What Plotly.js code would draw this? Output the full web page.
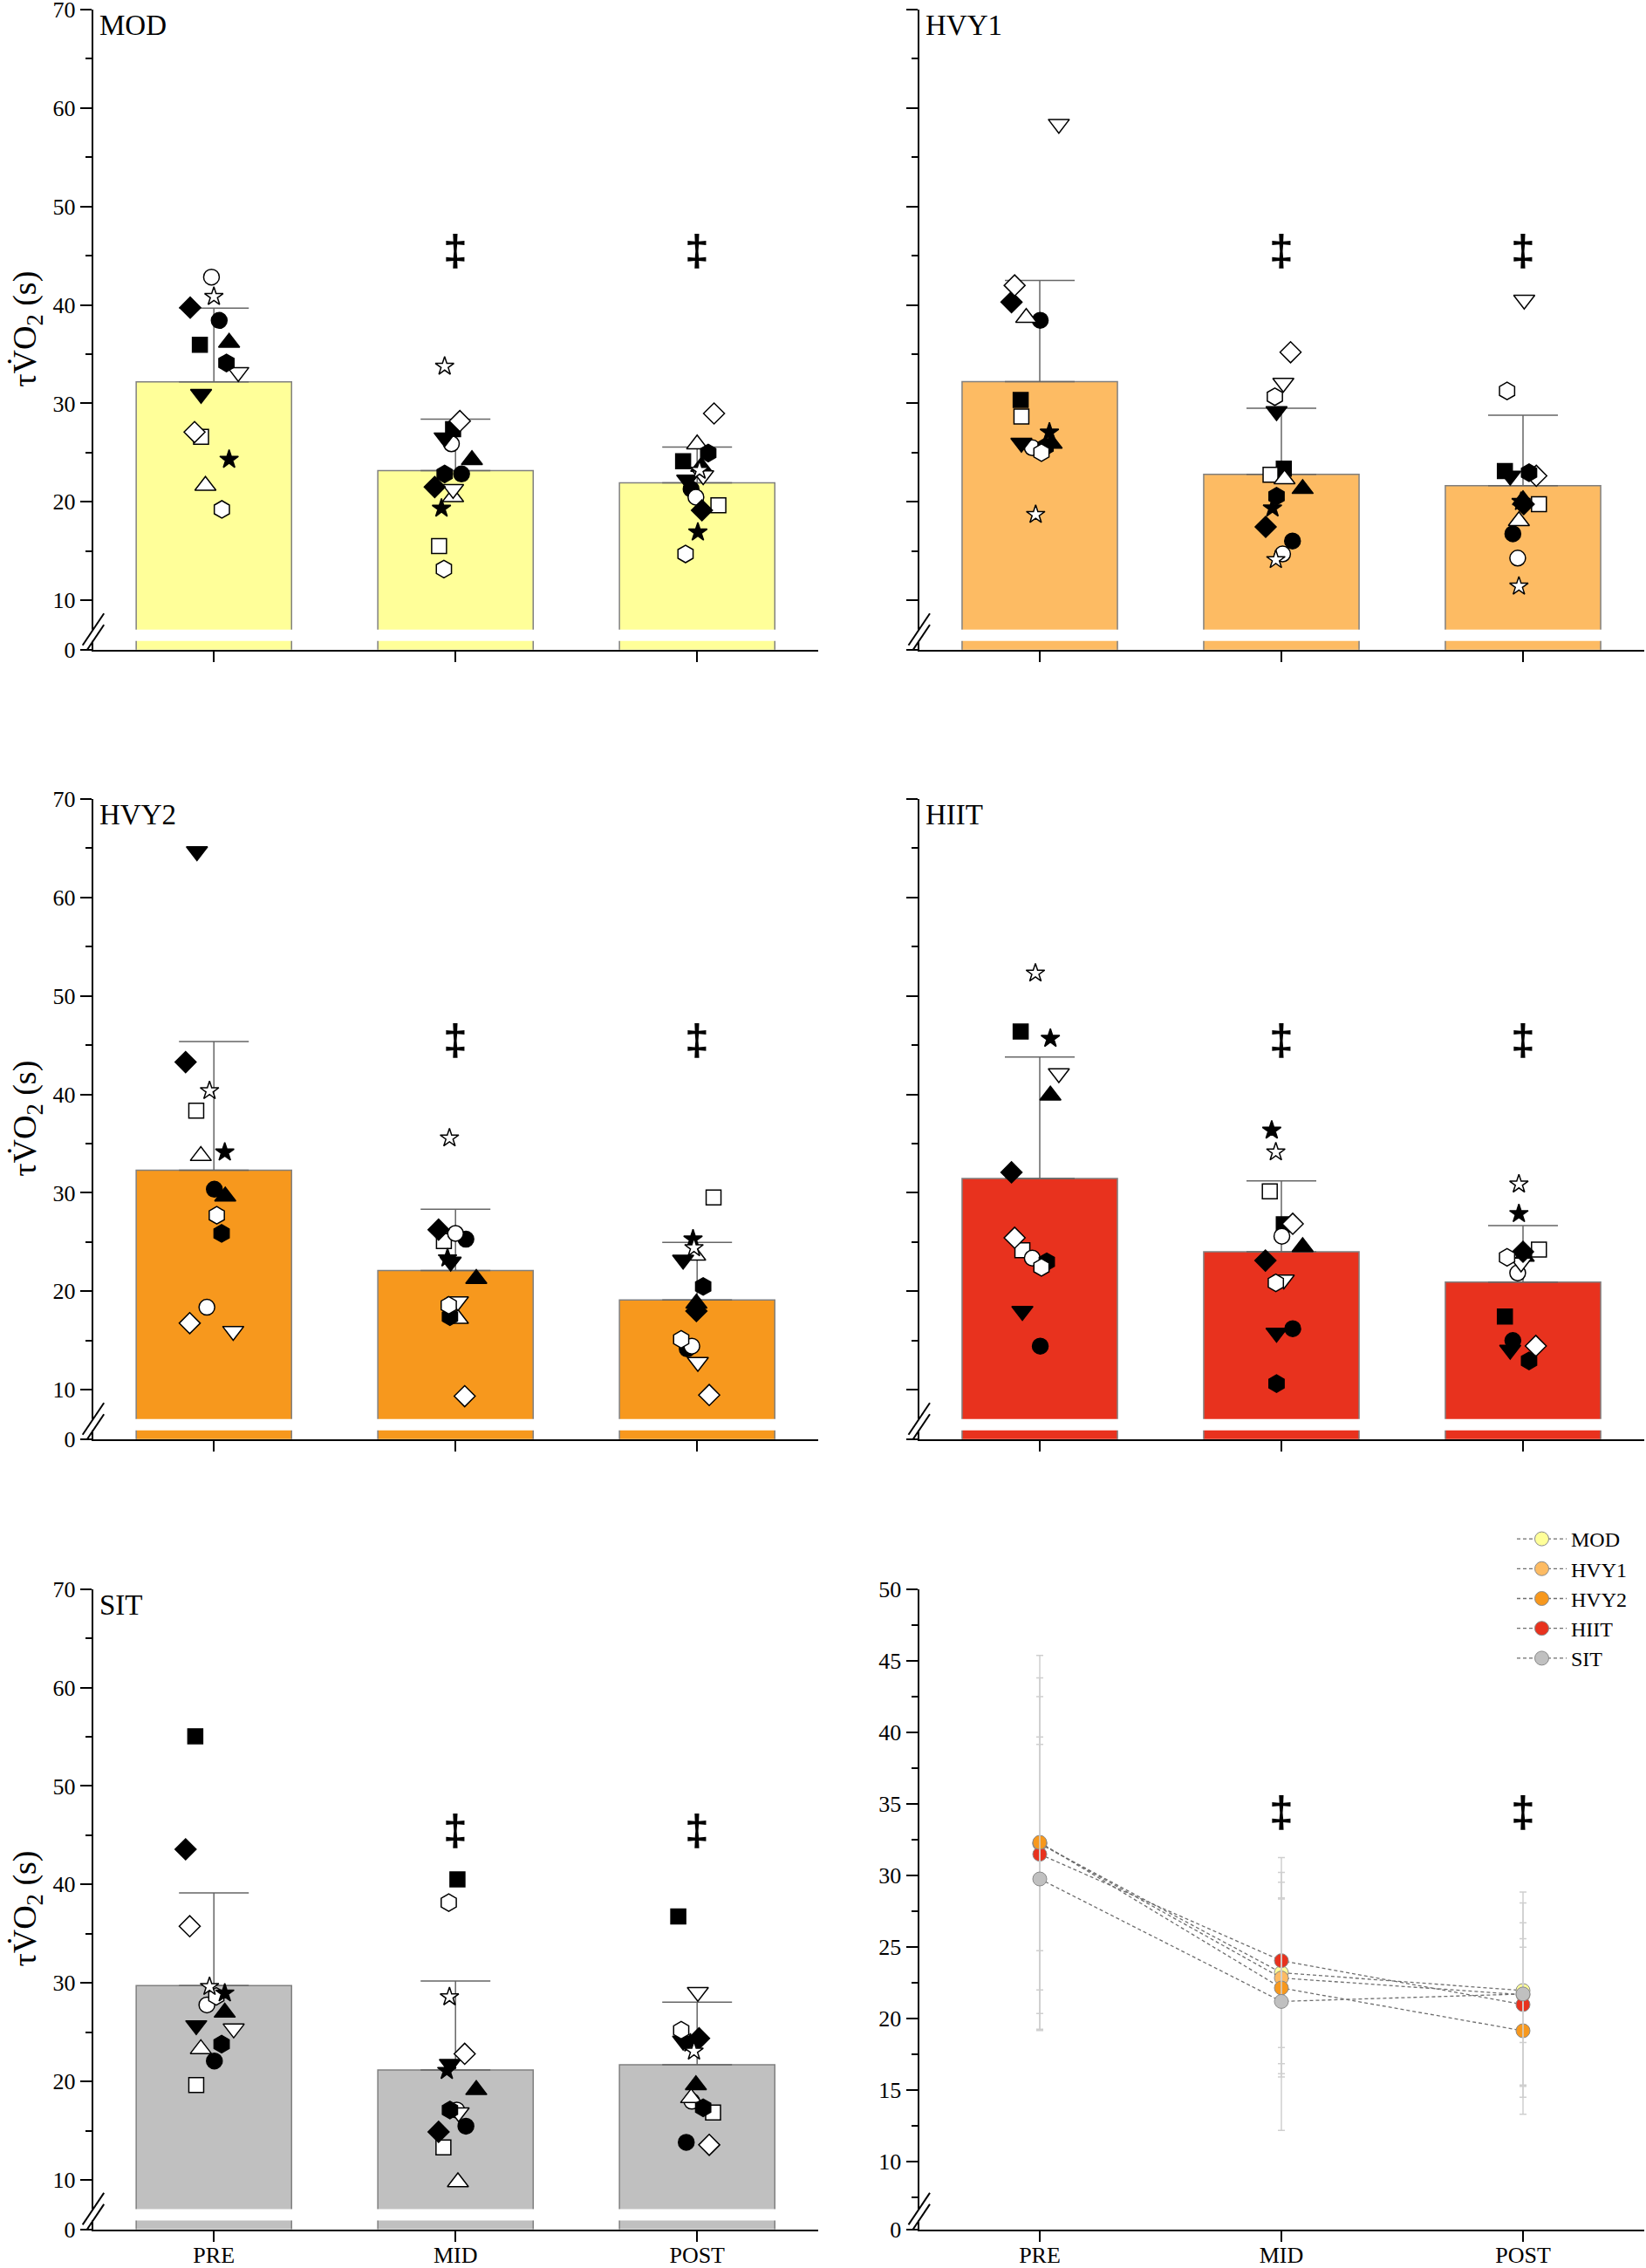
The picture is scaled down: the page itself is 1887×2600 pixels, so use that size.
<!DOCTYPE html>
<html><head><meta charset="utf-8">
<script src="https://cdn.plot.ly/plotly-3.0.1.min.js"></script>
<style>body{margin:0;background:#fff}</style>
</head><body><div id="chart" style="width:1887px;height:2600px"></div>
<script>
// ---------------- DATA ----------------
const categories = ['PRE', 'MID', 'POST'];
const groups = ['MOD', 'HVY1', 'HVY2', 'HIIT', 'SIT'];
// subject order: ■ □ ● ○ ▲ △ ▼ ▽ ◆ ◇ ⬢ ⬡ ★ ☆
const mod_mean = [32.19, 23.18, 21.93];
const mod_sd = [7.47, 5.23, 3.63];
const hvy1_mean = [32.22, 22.81, 21.64];
const hvy1_sd = [10.25, 6.69, 7.17];
const hvy2_mean = [32.29, 22.11, 19.12];
const hvy2_sd = [13.06, 6.22, 5.84];
const hiit_mean = [31.46, 24.02, 20.95];
const hiit_sd = [12.32, 7.20, 5.72];
const sit_mean = [29.73, 21.17, 21.69];
const sit_sd = [9.41, 9.02, 6.37];

const mod_pre = [35.94, 26.62, 38.42, 42.82, 36.18, 21.65, 30.95, 33.17, 39.72, 27.09, 34.11, 19.24, 24.31, 40.84];
const mod_mid = [27.38, 15.52, 22.84, 25.9, 24.26, 20.5, 26.53, 21.3, 21.51, 28.21, 22.84, 13.19, 19.35, 33.76];
const mod_post = [24.13, 19.65, 21.30, 20.48, 23.57, 25.85, 22.25, 22.69, 19.15, 28.98, 24.96, 14.72, 16.93, 23.2];
const hvy1_pre = [30.35, 28.67, 38.44, 25.5, 25.92, 38.70, 25.99, 58.36, 40.28, 41.98, 25.6, 25.0, 27.07, 18.72];
const hvy1_mid = [23.37, 22.75, 16.03, 14.72, 21.33, 22.32, 29.2, 32.08, 17.47, 35.19, 20.58, 30.68, 19.37, 14.13];
const hvy1_post = [23.14, 19.77, 16.76, 14.3, 20.2, 18.06, 22.65, 40.51, 19.77, 22.65, 22.97, 31.26, 20.03, 11.44];
const hvy2_pre = [null, 38.35, 30.37, 18.39, 29.64, 33.75, 64.66, 15.97, 43.27, 16.77, 25.88, 27.72, 34.13, 40.36];
const hvy2_mid = [null, 25.11, 25.3, 25.88, 21.27, 17.23, 23.0, 18.97, 26.26, 9.36, 17.43, 18.58, 23.38, 35.56];
const hvy2_post = [null, 29.53, 14.16, 14.44, 18.78, 23.65, 23.19, 12.82, 18.0, 9.48, 20.5, 15.13, 25.3, 24.42];
const hiit_pre = [46.37, 24.17, 14.44, 23.38, 39.89, null, 18.0, 42.13, 32.08, 25.44, 23.0, 22.43, 45.67, 52.3];
const hiit_mid = [26.8, 30.15, 16.21, 25.6, 24.5, null, 15.79, 21.18, 23.13, 26.86, 10.64, 20.86, 36.35, 34.14];
const hiit_post = [17.44, 24.24, 15.0, 21.87, 23.54, null, 14.06, 22.91, 24.02, 14.46, 12.95, 23.45, 27.88, 30.88];
const sit_pre = [55.05, 19.63, 22.08, 27.77, 27.0, 23.3, 25.69, 25.36, 43.57, 35.76, 23.79, 28.64, 28.97, 29.63];
const sit_mid = [40.52, 13.3, 15.46, 17.1, 19.14, 9.79, 21.76, 16.84, 14.88, 22.81, 17.1, 38.16, 21.1, 28.58];
const sit_post = [36.75, 16.84, 13.82, 17.99, 19.63, 18.32, 24.12, 29.07, 24.38, 13.56, 17.33, 25.2, 23.89, 23.07];

// horizontal jitter of individual points (category units)
const mod_pre_jit = [-0.058, -0.053, 0.022, -0.01, 0.063, -0.035, -0.053, 0.101, -0.098, -0.08, 0.052, 0.033, 0.063, 0.0];
const mod_mid_jit = [-0.01, -0.068, 0.025, -0.017, 0.068, -0.01, -0.045, -0.01, -0.086, 0.018, -0.045, -0.048, -0.058, -0.045];
const mod_post_jit = [-0.058, 0.088, -0.025, -0.005, 0.017, 0.0, -0.041, 0.025, 0.02, 0.07, 0.046, -0.048, 0.003, 0.01];
const hvy1_pre_jit = [-0.079, -0.076, 0.002, -0.031, 0.049, -0.056, -0.076, 0.079, -0.117, -0.104, 0.024, 0.007, 0.04, -0.017];
const hvy1_mid_jit = [0.01, -0.045, 0.046, 0.005, 0.088, 0.013, -0.02, 0.008, -0.065, 0.038, -0.02, -0.027, -0.037, -0.023];
const hvy1_post_jit = [-0.075, 0.066, -0.042, -0.022, 0.0, -0.017, -0.053, 0.005, 0.003, 0.055, 0.025, -0.066, -0.008, -0.017];
const hvy2_pre_jit = [0, -0.073, 0.002, -0.029, 0.047, -0.054, -0.07, 0.08, -0.117, -0.1, 0.032, 0.012, 0.045, -0.018];
const hvy2_mid_jit = [0, -0.048, 0.043, 0.0, 0.086, 0.01, -0.02, 0.01, -0.07, 0.038, -0.023, -0.028, -0.033, -0.025];
const hvy2_post_jit = [0, 0.068, -0.041, -0.022, -0.003, -0.008, -0.058, 0.003, -0.003, 0.05, 0.025, -0.066, -0.017, -0.013];
const hiit_pre_jit = [-0.079, -0.072, 0.002, -0.031, 0.044, 0, -0.072, 0.079, -0.117, -0.104, 0.029, 0.007, 0.044, -0.018];
const hiit_mid_jit = [0.01, -0.048, 0.047, 0.002, 0.088, 0, -0.02, 0.01, -0.066, 0.047, -0.02, -0.023, -0.04, -0.023];
const hiit_post_jit = [-0.075, 0.066, -0.042, -0.022, 0.003, 0, -0.053, -0.008, 0.0, 0.053, 0.025, -0.066, -0.017, -0.017];
const sit_pre_jit = [-0.077, -0.073, 0.002, -0.029, 0.045, -0.054, -0.073, 0.082, -0.117, -0.1, 0.032, 0.01, 0.045, -0.018];
const sit_mid_jit = [0.008, -0.05, 0.043, 0.005, 0.086, 0.01, -0.023, 0.013, -0.07, 0.038, -0.023, -0.028, -0.036, -0.025];
const sit_post_jit = [-0.078, 0.066, -0.045, -0.022, -0.005, -0.025, -0.058, 0.003, 0.008, 0.05, 0.025, -0.066, -0.028, -0.013];

const sigMark = '‡';
const sigCats = [1, 2];
const sigLevelBars = 45.5;
const sigLevelSummary = 34.43;

const barTicks = [0, 10, 20, 30, 40, 50, 60, 70];
const sumTicks = [0, 10, 15, 20, 25, 30, 35, 40, 45, 50];

// ---------------- STYLE ----------------
const colors = {MOD: '#FFFF99', HVY1: '#FDBB63', HVY2: '#F7981D', HIIT: '#E8321E', SIT: '#C0C0C0'};
const SERIF = 'Liberation Serif, Times New Roman, serif';
const SIGFONT = {family: 'Liberation Sans, Arial, sans-serif', size: 50, color: '#000', weight: 'bold'};
const symbols = ['square', 'square', 'circle', 'circle', 'triangle-up', 'triangle-up', 'triangle-down', 'triangle-down', 'diamond', 'diamond', 'hexagon', 'hexagon', 'star', 'star'];
const symSize = {'square': 17, 'circle': 18, 'triangle-up': 21, 'triangle-down': 21, 'diamond': 18.5, 'hexagon': 20, 'star': 16};
const W = 1887, H = 2600;
const colL = [106.7 / W, 937.7 / W];
const colR = [1053.5 / W, 1884.5 / W];
const rows = [[1 - 744.8 / H, 1 - 10.7 / H], [1 - 1649.8 / H, 1 - 915.7 / H], [1 - 2555.5 / H, 1 - 1821.6 / H]];
const barBottom = 5;      // where the broken axis label "0" sits
const sumBottom = 5.25;

const panels = [
  {name: 'MOD', mean: mod_mean, sd: mod_sd, pts: [mod_pre, mod_mid, mod_post], jit: [mod_pre_jit, mod_mid_jit, mod_post_jit], col: colL, row: rows[0], labels: true, xl: false},
  {name: 'HVY1', mean: hvy1_mean, sd: hvy1_sd, pts: [hvy1_pre, hvy1_mid, hvy1_post], jit: [hvy1_pre_jit, hvy1_mid_jit, hvy1_post_jit], col: colR, row: rows[0], labels: false, xl: false},
  {name: 'HVY2', mean: hvy2_mean, sd: hvy2_sd, pts: [hvy2_pre, hvy2_mid, hvy2_post], jit: [hvy2_pre_jit, hvy2_mid_jit, hvy2_post_jit], col: colL, row: rows[1], labels: true, xl: false},
  {name: 'HIIT', mean: hiit_mean, sd: hiit_sd, pts: [hiit_pre, hiit_mid, hiit_post], jit: [hiit_pre_jit, hiit_mid_jit, hiit_post_jit], col: colR, row: rows[1], labels: false, xl: false},
  {name: 'SIT', mean: sit_mean, sd: sit_sd, pts: [sit_pre, sit_mid, sit_post], jit: [sit_pre_jit, sit_mid_jit, sit_post_jit], col: colL, row: rows[2], labels: true, xl: true}
];

const traces = [];
const layout = {
  width: W, height: H, margin: {l: 0, r: 0, t: 0, b: 0},
  paper_bgcolor: '#fff', plot_bgcolor: 'rgba(0,0,0,0)',
  font: {family: SERIF, size: 26, color: '#000'},
  showlegend: true,
  legend: {x: 1734 / W, y: 1 - 1742 / H, xanchor: 'left', yanchor: 'top', bgcolor: 'rgba(0,0,0,0)',
           font: {family: SERIF, size: 24, color: '#000'}, itemwidth: 57, tracegroupgap: 0},
  shapes: [], annotations: []
};

function xAxis(domain, anchor, showLabels) {
  return {domain: domain, anchor: anchor, range: [-0.5, 2.5], tickmode: 'array', tickvals: [0, 1, 2], ticktext: categories,
    showticklabels: showLabels, showline: true, linecolor: '#000', linewidth: 2, ticks: 'outside', ticklen: 12,
    tickwidth: 2, tickcolor: '#000', showgrid: false, zeroline: false, fixedrange: true, ticklabelstandoff: -7,
    ticklabeloverflow: 'allow', tickfont: {family: SERIF, size: 26, color: '#000'}};
}
function yAxis(domain, anchor, range, tickv, tickt, minorv, showLabels) {
  return {domain: domain, anchor: anchor, range: range, tickmode: 'array', tickvals: tickv, ticktext: tickt,
    showticklabels: showLabels, showline: true, linecolor: '#000', linewidth: 2, ticks: 'outside', ticklen: 13,
    tickwidth: 2, tickcolor: '#000', showgrid: false, zeroline: false, fixedrange: true, ticklabeloverflow: 'allow',
    minor: {tickmode: 'array', tickvals: minorv, ticks: 'outside', ticklen: 7, tickwidth: 2, tickcolor: '#000', showgrid: false},
    tickfont: {family: SERIF, size: 26, color: '#000'}};
}
function addBreak(k, bottom, withBarGap) {
  const xr = 'x' + k, yr = 'y' + k;
  const base = {yref: yr, ysizemode: 'pixel', yanchor: bottom, layer: 'above'};
  if (withBarGap) {
    layout.shapes.push(Object.assign({}, base, {type: 'rect', xref: xr, x0: -0.4, x1: 2.4, y0: 10, y1: 23,
      fillcolor: '#fff', line: {width: 0}}));
  }
  layout.shapes.push(Object.assign({}, base, {type: 'rect', xref: xr + ' domain', xsizemode: 'pixel', xanchor: 0,
    x0: -4, x1: 4, y0: 10, y1: 23, fillcolor: '#fff', line: {width: 0}}));
  [10, 23].forEach(c => {
    layout.shapes.push(Object.assign({}, base, {type: 'line', xref: xr + ' domain', xsizemode: 'pixel', xanchor: 0,
      x0: -12, x1: 12.5, y0: c - 17.9, y1: c + 18.6, line: {color: '#000', width: 2}}));
  });
}

panels.forEach((p, i) => {
  const k = i + 1;
  const xa = 'x' + (k === 1 ? '' : k), ya = 'y' + (k === 1 ? '' : k);
  layout['xaxis' + (k === 1 ? '' : k)] = xAxis(p.col, ya, p.xl);
  const tv = barTicks.map(t => t === 0 ? barBottom : t);
  layout['yaxis' + (k === 1 ? '' : k)] = yAxis(p.row, xa, [barBottom, 70], tv, barTicks.map(String),
    [15, 25, 35, 45, 55, 65], p.labels);
  traces.push({type: 'bar', x: [0, 1, 2], y: p.mean, width: 0.643, xaxis: xa, yaxis: ya, showlegend: false,
    marker: {color: colors[p.name], line: {color: '#808080', width: 1.5}},
    error_y: {type: 'data', symmetric: false, array: p.sd, arrayminus: [0, 0, 0], color: '#666', thickness: 1.5, width: 40},
    hoverinfo: 'skip'});
  const xs = [], ys = [], sy = [], fc = [], sz = [];
  p.pts.forEach((vals, t) => {
    vals.forEach((v, s) => {
      xs.push(t + p.jit[t][s]); ys.push(v); sy.push(symbols[s]);
      fc.push(s % 2 === 0 ? '#000' : '#fff'); sz.push(symSize[symbols[s]]);
    });
  });
  traces.push({type: 'scatter', mode: 'markers', x: xs, y: ys, xaxis: xa, yaxis: ya, showlegend: false, cliponaxis: false,
    marker: {symbol: sy, color: fc, size: sz, opacity: 1, line: {color: '#000', width: 1.5}}, hoverinfo: 'skip'});
  addBreak(k === 1 ? '' : k, barBottom, true);
  layout.annotations.push({xref: xa + ' domain', yref: ya + ' domain', x: 0, y: 1, xanchor: 'left', yanchor: 'top',
    xshift: 5, yshift: 2, text: p.name, showarrow: false, font: {family: SERIF, size: 33, color: '#000'}});
  if (p.labels) {
    layout.annotations.push({xref: 'paper', yref: ya + ' domain', x: 31 / W, y: 0.5, xanchor: 'center', yanchor: 'middle',
      textangle: -90, text: 'τV̇O<sub>2</sub> (s)', showarrow: false, font: {family: SERIF, size: 38, color: '#000'}});
  }
  sigCats.forEach(c => layout.annotations.push({xref: xa, yref: ya, x: c, y: sigLevelBars, text: sigMark,
    showarrow: false, xanchor: 'center', yanchor: 'middle', font: SIGFONT}));
});

// summary panel
layout.xaxis6 = xAxis(colR, 'y6', true);
layout.yaxis6 = yAxis(rows[2], 'x6', [sumBottom, 50], sumTicks.map(t => t === 0 ? sumBottom : t), sumTicks.map(String),
  [7.5, 12.5, 17.5, 22.5, 27.5, 32.5, 37.5, 42.5, 47.5], true);
const summary = [
  {name: 'MOD', mean: mod_mean, sd: mod_sd, rank: 1},
  {name: 'HVY1', mean: hvy1_mean, sd: hvy1_sd, rank: 2},
  {name: 'HIIT', mean: hiit_mean, sd: hiit_sd, rank: 4},
  {name: 'HVY2', mean: hvy2_mean, sd: hvy2_sd, rank: 3},
  {name: 'SIT', mean: sit_mean, sd: sit_sd, rank: 5}
];
summary.forEach(g => {
  traces.push({type: 'scatter', mode: 'lines+markers', name: g.name, legendrank: g.rank, x: [0, 1, 2], y: g.mean,
    xaxis: 'x6', yaxis: 'y6', line: {color: '#6e6e6e', width: 1.3, dash: '4px,3px'},
    marker: {symbol: 'circle', size: 16, color: colors[g.name], line: {color: '#8a8a8a', width: 1}},
    error_y: {type: 'data', array: g.sd, color: '#cfcfcf', thickness: 1.5, width: 4}, hoverinfo: 'skip'});
});
addBreak(6, sumBottom, false);
sigCats.forEach(c => layout.annotations.push({xref: 'x6', yref: 'y6', x: c, y: sigLevelSummary, text: sigMark,
  showarrow: false, xanchor: 'center', yanchor: 'middle', font: SIGFONT}));

Plotly.newPlot('chart', traces, layout, {displayModeBar: false, staticPlot: true});
</script>
</body></html>
